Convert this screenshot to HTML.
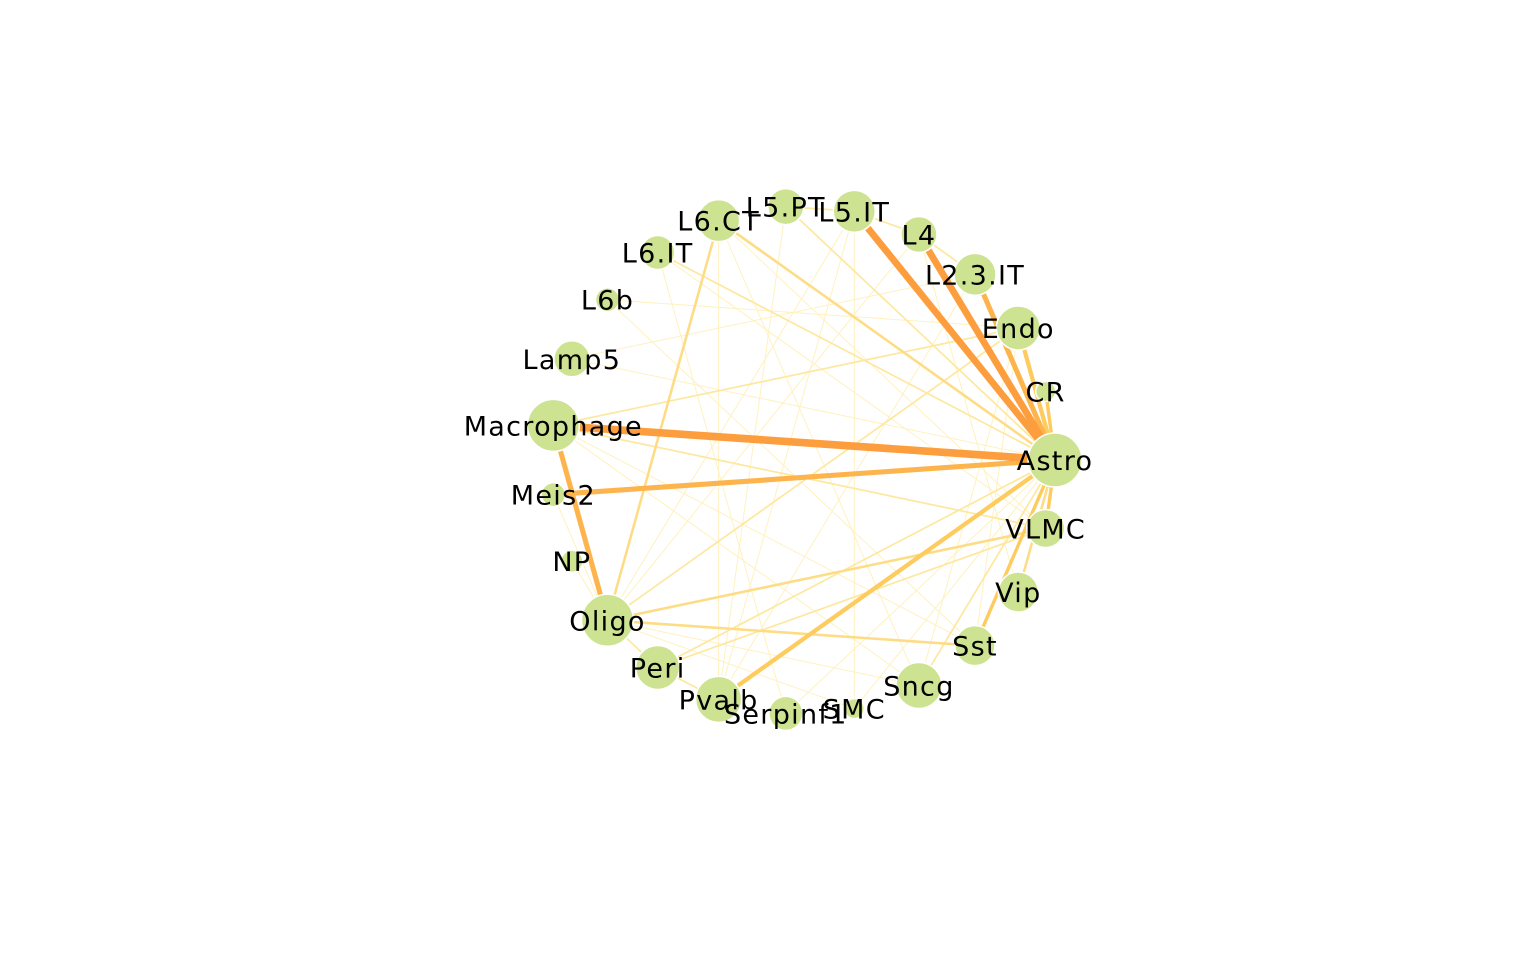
<!DOCTYPE html>
<html><head><meta charset="utf-8"><style>
html,body{margin:0;padding:0;background:#fff;}
svg text{font-family:"DejaVu Sans","Liberation Sans",sans-serif;font-size:27px;letter-spacing:1.3px;fill:#000;}
</style></head><body>
<svg id="chart" width="1536" height="960" viewBox="0 0 1536 960" xmlns="http://www.w3.org/2000/svg">
<g id="edges"></g>
<g id="nodes"></g>
<g id="labels"></g>
</svg>
<script>
const nodeNames = ["Astro","CR","Endo","L2.3.IT","L4","L5.IT","L5.PT","L6.CT","L6.IT","L6b","Lamp5","Macrophage","Meis2","NP","Oligo","Peri","Pvalb","Serpinf1","SMC","Sncg","Sst","Vip","VLMC"];
const nodeSizes = [27,10,22,21,18,21,18,21,17,12,18,26,12,11,26,22,23,17,10,23,20,20,19];
const edgeFrom = ["Macrophage","L5.IT","L4","L2.3.IT","Meis2","Pvalb","Macrophage","Endo","CR","L6.CT","L6.CT","Oligo","Oligo","Oligo","Macrophage","Peri","VLMC","Vip","Sst","L5.PT","L5.IT","L4","Oligo","Peri","Macrophage","L6.IT","L5.IT","L5.PT","Lamp5","L6b","Pvalb","Pvalb","Serpinf1","SMC","Sncg","Oligo","Oligo","L6.IT","L6b","Lamp5","Meis2","NP","Peri","Pvalb","L6.CT","Sncg","Sst","Vip","Macrophage","L6.CT","L5.PT","Oligo","Macrophage","Serpinf1","SMC"];
const edgeTo   = ["Astro","Astro","Astro","Astro","Astro","Astro","Oligo","Astro","Astro","Oligo","Astro","VLMC","Sst","Endo","Endo","VLMC","Astro","Astro","Astro","L5.IT","L4","L2.3.IT","Peri","Pvalb","VLMC","Astro","Oligo","Astro","Astro","Sst","L6.CT","L5.IT","Astro","Astro","Astro","Sncg","SMC","VLMC","Endo","L2.3.IT","Oligo","Oligo","Astro","L2.3.IT","VLMC","Endo","Endo","L4","Sst","Sncg","Pvalb","L4","Sncg","L6.IT","L5.IT"];
const edgeWeight=[9,8,8,6,6,5,6,5,4,3,3,3,3,2,2,2,4,3,4,2,2,2,2,2,2,2,1,2,1,1,1,1,1,1,2,1,1,1,1,1,1,1,2,1,1,1,1,1,1,1,1,1,1,1,1];

const cx=803, cy=460, rx=252, ry=254;
const NS="http://www.w3.org/2000/svg";
function pos(name){
  const i=nodeNames.indexOf(name);
  const a=i*2*Math.PI/nodeNames.length;
  return [cx+rx*Math.cos(a), cy-ry*Math.sin(a)];
}
function edgeColor(w){
  if(w>=8) return "#fd9e3e";
  if(w>=6) return "#feb44d";
  if(w>=4) return "#fecb5f";
  if(w>=3) return "#fedc85";
  if(w>=2) return "#fee79e";
  return "#fff1bf";
}
const eg=document.getElementById('edges');
const order=edgeWeight.map((w,i)=>i).sort((a,b)=>edgeWeight[a]-edgeWeight[b]);
order.forEach(i=>{
  const p=pos(edgeFrom[i]), q=pos(edgeTo[i]);
  const l=document.createElementNS(NS,'line');
  l.setAttribute('x1',p[0]);l.setAttribute('y1',p[1]);
  l.setAttribute('x2',q[0]);l.setAttribute('y2',q[1]);
  l.setAttribute('stroke',edgeColor(edgeWeight[i]));
  l.setAttribute('stroke-width',Math.max(1,edgeWeight[i]*0.85));
  
  
  eg.appendChild(l);
});
const ng=document.getElementById('nodes'), lg=document.getElementById('labels');
nodeNames.forEach((n,i)=>{
  const p=pos(n);
  const c=document.createElementNS(NS,'circle');
  c.setAttribute('cx',p[0]);c.setAttribute('cy',p[1]);c.setAttribute('r',nodeSizes[i]);
  c.setAttribute('fill','#cde391');c.setAttribute('stroke','#ffffff');c.setAttribute('stroke-width','1.5');
  
  
  ng.appendChild(c);
  const t=document.createElementNS(NS,'text');
  t.setAttribute('x',p[0]);t.setAttribute('y',p[1]+10);t.setAttribute('text-anchor','middle');
  t.textContent=n;
  
  
  lg.appendChild(t);
});
</script>
</body></html>
